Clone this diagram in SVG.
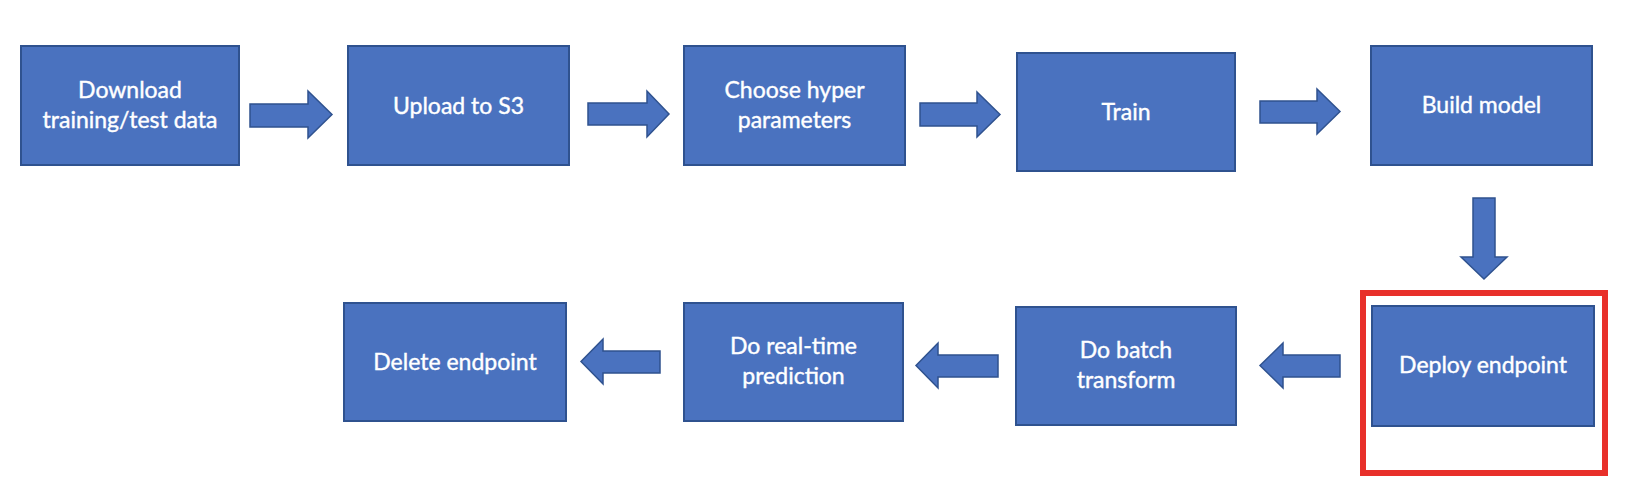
<svg xmlns="http://www.w3.org/2000/svg" width="1634" height="496" viewBox="0 0 1634 496">
<style>
.box{fill:#4A72BF;stroke:#2F528F;stroke-width:2}
.arr{fill:#4A72BF;stroke:#2F528F;stroke-width:1.5;stroke-linejoin:miter}
.t{fill:#FFFFFF;stroke:#FFFFFF;stroke-width:0.4;font-family:Lato,"Open Sans","Liberation Sans",sans-serif;font-size:23px;text-anchor:middle}
.hl{fill:none;stroke:#E8302A;stroke-width:6}
</style>
<rect width="1634" height="496" fill="#FFFFFF"/>
<g id="connectors">
<polygon class="arr" points="250,104 308,104 308,91 332,114.5 308,138 308,127 250,127"/>
<polygon class="arr" points="588,103 647,103 647,91 669,114 647,137 647,125 588,125"/>
<polygon class="arr" points="920,103 977,103 977,92 1000,114.5 977,137 977,126 920,126"/>
<polygon class="arr" points="1260,101 1317,101 1317,89 1340,111.5 1317,134 1317,123 1260,123"/>
<polygon class="arr" points="1473,198 1495,198 1495,257 1507,257 1484,279 1461,257 1473,257"/>
<polygon class="arr" points="1340,355 1283,355 1283,343 1260,365.5 1283,388 1283,377 1340,377"/>
<polygon class="arr" points="998,355 938,355 938,343 916,365.5 938,388 938,377 998,377"/>
<polygon class="arr" points="660,351 603,351 603,339 581,361.5 603,384 603,373 660,373"/>
</g>
<g id="download">
<rect class="box" x="21" y="46" width="218" height="119"/>
<text class="t" x="130" y="98">Download</text>
<text class="t" x="130" y="128">training/test data</text>
</g>
<g id="upload">
<rect class="box" x="348" y="46" width="221" height="119"/>
<text class="t" x="458.5" y="114">Upload to S3</text>
</g>
<g id="hyper">
<rect class="box" x="684" y="46" width="221" height="119"/>
<text class="t" x="794.5" y="98">Choose hyper</text>
<text class="t" x="794.5" y="128">parameters</text>
</g>
<g id="train">
<rect class="box" x="1017" y="53" width="218" height="118"/>
<text class="t" x="1126" y="120">Train</text>
</g>
<g id="build">
<rect class="box" x="1371" y="46" width="221" height="119"/>
<text class="t" x="1481.5" y="113">Build model</text>
</g>
<g id="deploy">
<rect class="box" x="1372" y="306" width="222" height="120"/>
<text class="t" x="1483" y="373">Deploy endpoint</text>
<rect class="hl" x="1363" y="293" width="242" height="180"/>
</g>
<g id="batch">
<rect class="box" x="1016" y="307" width="220" height="118"/>
<text class="t" x="1126" y="358">Do batch</text>
<text class="t" x="1126" y="388">transform</text>
</g>
<g id="realtime">
<rect class="box" x="684" y="303" width="219" height="118"/>
<text class="t" x="793.5" y="354">Do real-time</text>
<text class="t" x="793.5" y="384">prediction</text>
</g>
<g id="delete">
<rect class="box" x="344" y="303" width="222" height="118"/>
<text class="t" x="455" y="370">Delete endpoint</text>
</g>
</svg>
